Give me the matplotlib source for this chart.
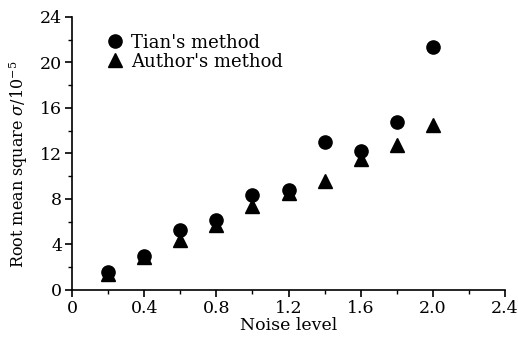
import matplotlib.pyplot as plt
from matplotlib.ticker import MultipleLocator

plt.rcParams["font.family"] = ["DejaVu Serif"]
plt.rcParams["mathtext.fontset"] = "dejavuserif"

noise = [0.2, 0.4, 0.6, 0.8, 1.0, 1.2, 1.4, 1.6, 1.8, 2.0]
tian = [1.6, 3.0, 5.3, 6.1, 8.3, 8.8, 13.0, 12.2, 14.8, 21.4]
author = [1.4, 2.9, 4.4, 5.7, 7.4, 8.5, 9.6, 11.5, 12.7, 14.5]


def main():
    fig = plt.figure(figsize=(5.18, 3.39), dpi=100)
    ax = fig.add_axes([0.139, 0.145, 0.836, 0.805])

    ax.plot(noise, tian, "o", color="black", markersize=9.5, label="Tian's method",
            clip_on=False)
    ax.plot(noise, author, "^", color="black", markersize=9.5, label="Author's method",
            clip_on=False)

    ax.set_xlim(0, 2.4)
    ax.set_ylim(0, 24)
    ax.xaxis.set_major_locator(MultipleLocator(0.4))
    ax.xaxis.set_minor_locator(MultipleLocator(0.2))
    ax.yaxis.set_major_locator(MultipleLocator(4))
    ax.yaxis.set_minor_locator(MultipleLocator(2))
    ax.set_xticklabels([f"{v:g}" if v == 0 else f"{v:.1f}" for v in ax.get_xticks()])

    for s in ("top", "right"):
        ax.spines[s].set_visible(False)
    for s in ("left", "bottom"):
        ax.spines[s].set_linewidth(1.2)
    ax.tick_params(which="major", direction="out", length=5, width=1.2, labelsize=12.5,
                   pad=2)
    ax.tick_params(which="minor", direction="out", length=3, width=1.0)

    ax.set_xlabel("Noise level", fontsize=12.5, labelpad=0)
    ax.set_ylabel(r"Root mean square $\sigma$/10$^{\mathregular{-5}}$", fontsize=11.5)
    ax.yaxis.set_label_coords(-0.098, 0.46)

    ax.legend(loc="upper left", bbox_to_anchor=(0.045, 0.985), frameon=False,
              fontsize=13, handletextpad=0.3, labelspacing=0.05, handlelength=1.2,
              borderpad=0.2)

    fig.savefig("out.png", dpi=100)


if __name__ == "__main__":
    main()
